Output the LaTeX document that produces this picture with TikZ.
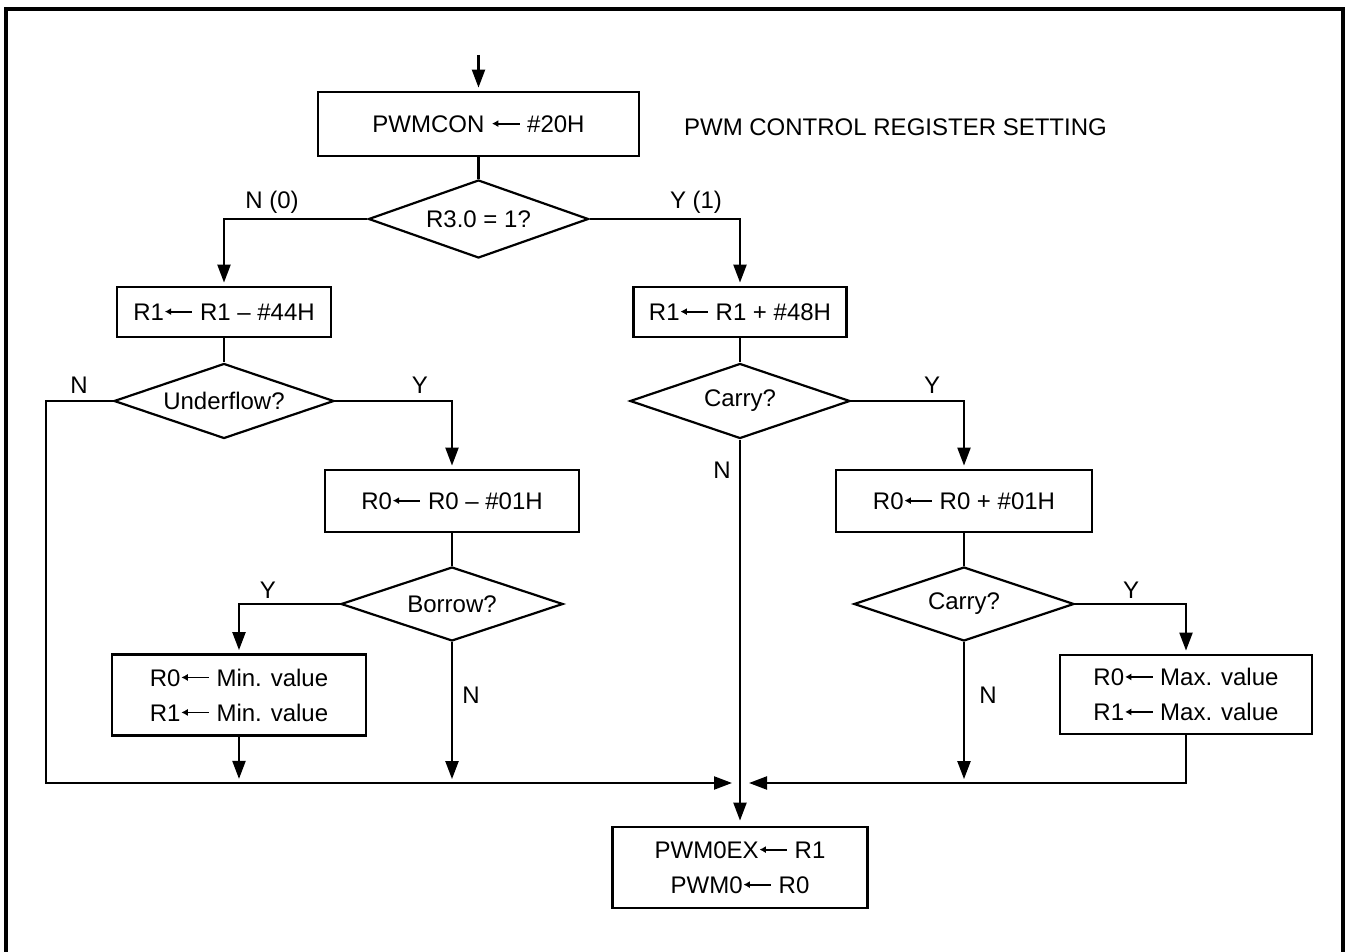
\documentclass[tikz,border=0pt]{standalone}
\usepackage{fontspec}
\setmainfont{Liberation Sans}
\usetikzlibrary{shapes.geometric,arrows.meta}

% small assignment arrow used inside the register texts
\newcommand\larrow{\tikz[baseline=-0.36em]\draw[line width=0.9pt,{Latex[length=3.2pt,width=3.6pt]}-] (0,0) -- (1.15em,0);}

\begin{document}
\begin{tikzpicture}[x=0.5pt,y=-0.5pt,
  line width=1.1pt,
  font=\fontsize{12}{17.5}\selectfont,
  box/.style={draw,rectangle,inner sep=0pt,align=center},
  dec/.style={draw,diamond,inner sep=0pt,aspect=3},
  flow/.style={-{Triangle[length=9pt,width=6.5pt]},shorten >=2pt},
  lbl/.style={inner sep=0pt}]
\useasboundingbox (0,0) rectangle (1345,952);

% frame
\draw[line width=1.7pt] (6,960) -- (6,9) -- (1343,9) -- (1343,960);

% blocks
\node[box,minimum width=160.5pt,minimum height=32pt] (pw) at (478.5,124) {PWMCON \larrow\ \#20H};
\node[lbl,anchor=west] (note) at (683,127) {PWM CONTROL REGISTER SETTING};
\node[dec,minimum width=110pt,minimum height=39pt] (d1) at (478.5,219) {R3.0 = 1?};

\node[box,minimum width=107pt,minimum height=25pt] (bL) at (224,312) {R1\larrow\ R1 – \#44H};
\node[box,minimum width=106.5pt,minimum height=25pt] (bR) at (740,312) {R1\larrow\ R1 + \#48H};

\node[dec,minimum width=110pt,minimum height=37.5pt] (dU) at (224,401) {Underflow?};
\node[dec,minimum width=110pt,minimum height=37.5pt] (dC1) at (740,401) {Carry?};

\node[box,minimum width=127pt,minimum height=31pt] (bS) at (452,501) {R0\larrow\ R0 – \#01H};
\node[box,minimum width=128pt,minimum height=31pt] (bA) at (964,501) {R0\larrow\ R0 + \#01H};

\node[dec,minimum width=111pt,minimum height=37pt] (dB) at (452,604) {Borrow?};
\node[dec,minimum width=110pt,minimum height=37pt] (dC2) at (964,604) {Carry?};

\node[box,minimum width=127pt,minimum height=40.5pt] (bMin) at (239,695) {R0\larrow\ Min. value\\R1\larrow\ Min. value};
\node[box,minimum width=126pt,minimum height=39.5pt] (bMax) at (1186,694.5) {R0\larrow\ Max. value\\R1\larrow\ Max. value};

\node[box,minimum width=127.5pt,minimum height=40.5pt] (bF) at (740,867.5) {PWM0EX\larrow\ R1\\PWM0\larrow\ R0};

% junction points on the collecting line
\coordinate (entry) at (478.5,55);
\coordinate (busL) at (46,783);
\coordinate (jl) at (732,783);
\coordinate (jr) at (749,783);

% connectors
\draw[flow] (entry) -- (pw.north);
\draw (pw.south) -- (d1.north);
\draw[flow] (d1.west) -| (bL.north);
\draw[flow] (d1.east) -| (bR.north);
\draw (bL.south) -- (dU.north);
\draw (bR.south) -- (dC1.north);

\draw[flow,shorten >=0pt] (dU.west) -| (busL) -- (jl);
\draw[flow] (dU.east) -| (bS.north);
\draw (bS.south) -- (dB.north);
\draw[flow] (dB.west) -| (bMin.north);
\draw[flow] (bMin.south) -- ++(0,47);
\draw[flow] (dB.south) -- ++(0,141);

\draw[flow,shorten >=3pt] (dC1.south) -- (bF.north);
\draw[flow] (dC1.east) -| (bA.north);
\draw (bA.south) -- (dC2.north);
\draw[flow] (dC2.east) -| (bMax.north);
\draw[flow] (dC2.south) -- ++(0,141);
\draw[flow,shorten >=0pt] (bMax.south) |- (jr);

% branch labels
\node[lbl] (l1) at (272,202) {N (0)};
\node[lbl] (l2) at (696,202) {Y (1)};
\node[lbl] (l3) at (79,385) {N};
\node[lbl] (l4) at (420,385) {Y};
\node[lbl] (l5) at (932,385) {Y};
\node[lbl] (l6) at (722,470) {N};
\node[lbl] (l7) at (268,590) {Y};
\node[lbl] (l8) at (471,695) {N};
\node[lbl] (l9) at (1131,590) {Y};
\node[lbl] (l10) at (988,695) {N};
\end{tikzpicture}
\end{document}
